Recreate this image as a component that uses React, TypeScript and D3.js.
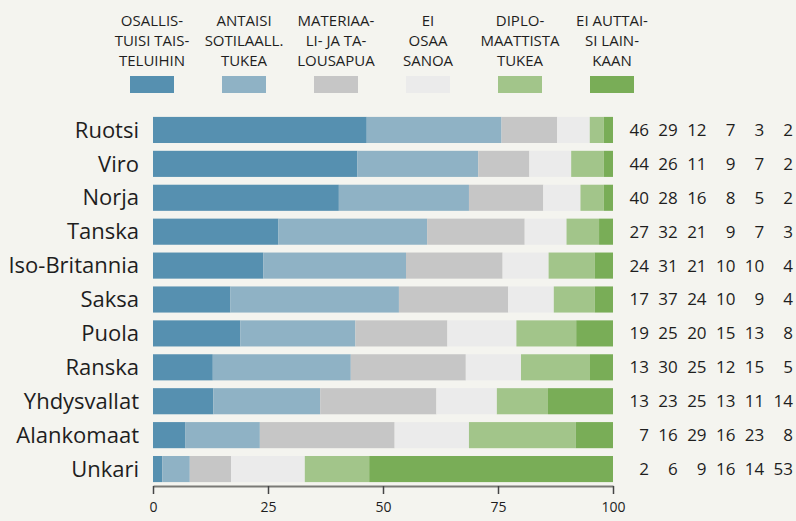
import React, { useEffect, useRef } from 'react';
import * as d3 from 'd3';

const countries = ['Ruotsi', 'Viro', 'Norja', 'Tanska', 'Iso-Britannia', 'Saksa', 'Puola', 'Ranska', 'Yhdysvallat', 'Alankomaat', 'Unkari'];

const legendLabels = [
  ['OSALLIS-', 'TUISI TAIS-', 'TELUIHIN'],
  ['ANTAISI', 'SOTILAALL.', 'TUKEA'],
  ['MATERIAA-', 'LI- JA TA-', 'LOUSAPUA'],
  ['EI', 'OSAA', 'SANOA'],
  ['DIPLO-', 'MAATTISTA', 'TUKEA'],
  ['EI AUTTAI-', 'SI LAIN-', 'KAAN'],
];

const taistelu = [46, 44, 40, 27, 24, 17, 19, 13, 13, 7, 2];
const sotilas = [29, 26, 28, 32, 31, 37, 25, 30, 23, 16, 6];
const talous = [12, 11, 16, 21, 21, 24, 20, 25, 25, 29, 9];
const eos = [7, 9, 8, 9, 10, 10, 15, 12, 13, 16, 16];
const diplo = [3, 7, 5, 7, 10, 9, 13, 15, 11, 23, 14];
const eiMitaan = [2, 2, 2, 3, 4, 4, 8, 5, 14, 8, 53];

const colors = ['#5690b0', '#8fb2c5', '#c6c6c6', '#ebebeb', '#a2c58a', '#79ad57'];
const ticks = [0, 25, 50, 75, 100];

export default function App() {
  const ref = useRef<SVGSVGElement>(null);

  useEffect(() => {
    document.body.style.margin = '0';
    const svg = d3.select(ref.current);
    svg.selectAll('*').remove();
    const width = 796;
    const height = 521;
    const font = '"Open Sans", sans-serif';

    svg.append('rect').attr('width', width).attr('height', height).attr('fill', '#f4f4ef');

    const series = [taistelu, sotilas, talous, eos, diplo, eiMitaan];
    const rows = countries.map((c, i) => {
      const r: any = { country: c };
      series.forEach((s, k) => (r['k' + k] = s[i]));
      return r;
    });
    const keys = series.map((_, k) => 'k' + k);
    // shares sum to 99..101, bars are drawn as full 100 %
    const stacked = d3.stack().keys(keys).offset(d3.stackOffsetExpand)(rows);

    const x = d3.scaleLinear().domain([0, 1]).range([153, 613]);
    const y = d3.scaleBand().domain(countries).range([113, 486]).paddingInner(0.23).paddingOuter(0.115);

    // bars
    svg.append('g')
      .selectAll('g')
      .data(stacked)
      .join('g')
      .attr('fill', (_, i) => colors[i])
      .selectAll('rect')
      .data(d => d)
      .join('rect')
      .attr('x', d => x(d[0]))
      .attr('width', d => x(d[1]) - x(d[0]))
      .attr('y', d => y((d.data as any).country)!)
      .attr('height', y.bandwidth());

    // country labels
    svg.append('g')
      .selectAll('text')
      .data(countries)
      .join('text')
      .attr('x', 139)
      .attr('y', d => y(d)! + y.bandwidth() / 2)
      .attr('dy', '0.35em')
      .attr('text-anchor', 'end')
      .style('font-family', font)
      .style('font-size', '22px')
      .attr('fill', '#1e1e1e')
      .text(d => d);

    // value columns
    const colX = d3.scaleLinear().domain([0, 5]).range([649, 793]);
    series.forEach((s, k) => {
      svg.append('g')
        .selectAll('text')
        .data(s)
        .join('text')
        .attr('x', colX(k))
        .attr('y', (_, i) => y(countries[i])! + y.bandwidth() / 2)
        .attr('dy', '0.35em')
        .attr('text-anchor', 'end')
        .style('font-family', font)
        .style('font-size', '17px')
        .attr('fill', '#1e1e1e')
        .text(d => d);
    });

    // axis
    const xAxis = d3.scaleLinear().domain([0, 100]).range([153, 613]);
    const ax = svg.append('g')
      .attr('transform', 'translate(0,486)')
      .call(d3.axisBottom(xAxis).tickValues(ticks).tickSize(8).tickSizeOuter(0).tickPadding(8));
    ax.select('.domain').attr('stroke', '#7a7a76').attr('stroke-width', 2);
    ax.selectAll('.tick line').attr('stroke', '#444').attr('stroke-width', 1.5);
    ax.selectAll('.tick text')
      .style('font-family', font)
      .style('font-size', '14px')
      .attr('fill', '#1e1e1e');

    // legend
    const lx = d3.scaleLinear().domain([0, 5]).range([152, 612]);
    const leg = svg.append('g')
      .selectAll('g')
      .data(legendLabels)
      .join('g')
      .attr('transform', (_, i) => `translate(${lx(i)},0)`);
    leg.append('rect')
      .attr('x', -22)
      .attr('y', 76)
      .attr('width', 44)
      .attr('height', 17)
      .attr('fill', (_, i) => colors[i]);
    leg.selectAll('text')
      .data(d => d)
      .join('text')
      .attr('x', 0)
      .attr('y', (_, j) => 26 + j * 20)
      .attr('text-anchor', 'middle')
      .style('font-family', font)
      .style('font-size', '15px')
      .attr('fill', '#1e1e1e')
      .text(d => d);
  }, []);

  return <svg ref={ref} width={796} height={521} style={{ display: 'block' }} />;
}
